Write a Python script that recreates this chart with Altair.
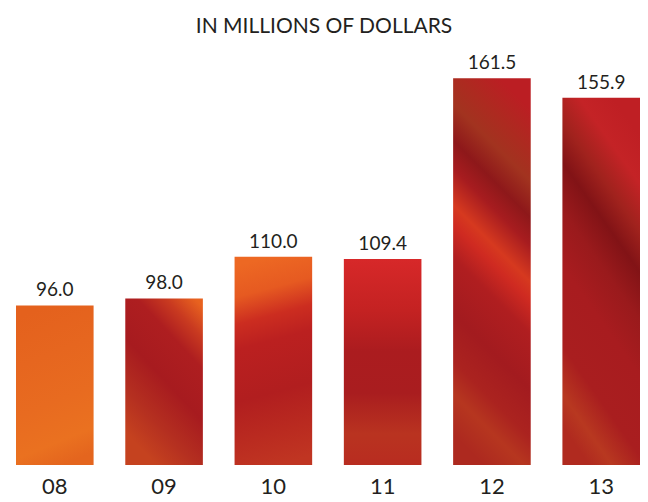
import altair as alt
import pandas as pd

years = ["08", "09", "10", "11", "12", "13"]
values = [96.0, 98.0, 110.0, 109.4, 161.5, 155.9]
title_text = ["IN MILLIONS OF DOLLARS"]

df = pd.DataFrame({"year": years, "value": values})
df_title = pd.DataFrame({"t": title_text})

FONT = "Lato"
INK = "#231f20"

def grad(stops, x1=0, y1=0, x2=0, y2=1):
    return {"gradient": "linear", "x1": x1, "y1": y1, "x2": x2, "y2": y2,
            "stops": [{"offset": o, "color": c} for o, c in stops]}

fills = {
    "08": grad([(0, "#e4611d"), (0.3, "#e6661f"), (0.6, "#e86b20"), (0.85, "#ea7120"), (1, "#e4651e")], 0.4, 0, 0.6, 1),
    "09": grad([(0, "#e8621f"), (0.15, "#c93a20"), (0.3, "#ae1e20"), (0.55, "#a71b1f"), (0.8, "#b53020"), (1, "#c5421f")], 0.9, 0, 0.4, 1),
    "10": grad([(0, "#ed6823"), (0.15, "#e65a21"), (0.28, "#cc2d20"), (0.4, "#bb2020"), (0.65, "#b11e1f"), (0.85, "#ba2b20"), (1, "#c03522")], 0.45, 0, 0.55, 1),
    "11": grad([(0, "#d72829"), (0.25, "#c42222"), (0.45, "#ab1c1f"), (0.65, "#a91d1f"), (0.85, "#b93320"), (1, "#b82c20")]),
    "12": grad([(0, "#bb1e23"), (0.1, "#ad2a20"), (0.18, "#a2331f"), (0.27, "#8e181a"), (0.34, "#a71c1f"),
                (0.43, "#d6391f"), (0.48, "#cf2a21"), (0.56, "#b01e20"), (0.7, "#a31b1f"), (0.82, "#ab231f"),
                (0.9, "#b6361f"), (1, "#ad291f")], 0.6, 0, 0.4, 1),
    "13": grad([(0, "#bf1f24"), (0.12, "#c42326"), (0.24, "#a0221d"), (0.34, "#821316"), (0.46, "#9a1a1c"),
                (0.6, "#a81c1f"), (0.8, "#a91e1f"), (0.92, "#b83820"), (1, "#b02a1f")], 0.65, 0, 0.35, 1),
}

x_enc = alt.X("year:N", scale=alt.Scale(domain=years, paddingInner=0.29, paddingOuter=0),
              axis=alt.Axis(title=None, domain=False, ticks=False, tickSize=0, grid=False,
                            labelFont=FONT, labelFontSize=22, labelColor=INK, labelPadding=11,
                            labelAngle=0))
y_scale = alt.Scale(domain=[50, 163], zero=False, nice=False)
y_enc = alt.Y("value:Q", scale=y_scale, axis=None)

base = alt.Chart(df)
layers = []
for yr in years:
    layers.append(
        base.transform_filter(alt.datum.year == yr)
        .mark_bar(color=fills[yr])
        .encode(x=x_enc, y=y_enc, y2=alt.datum(50))
    )

text = base.mark_text(font=FONT, fontSize=19, color=INK, baseline="alphabetic", dy=-9).encode(
    x=x_enc, y=y_enc, text=alt.Text("value:Q", format=".1f")
)
layers.append(text)

title = alt.Chart(df_title).mark_text(font=FONT, fontSize=21, color=INK, baseline="alphabetic",
                                      align="center").encode(
    text="t:N", x=alt.value(308), y=alt.value(-40)
)
layers.append(title)

chart = alt.layer(*layers).properties(
    width=624, height=392,
    autosize="none",
    padding={"left": 8, "top": 65, "right": 0, "bottom": 36},
    background="white",
).configure_view(stroke=None)

chart.save("out.html", embed_options={"renderer": "svg", "actions": False})
